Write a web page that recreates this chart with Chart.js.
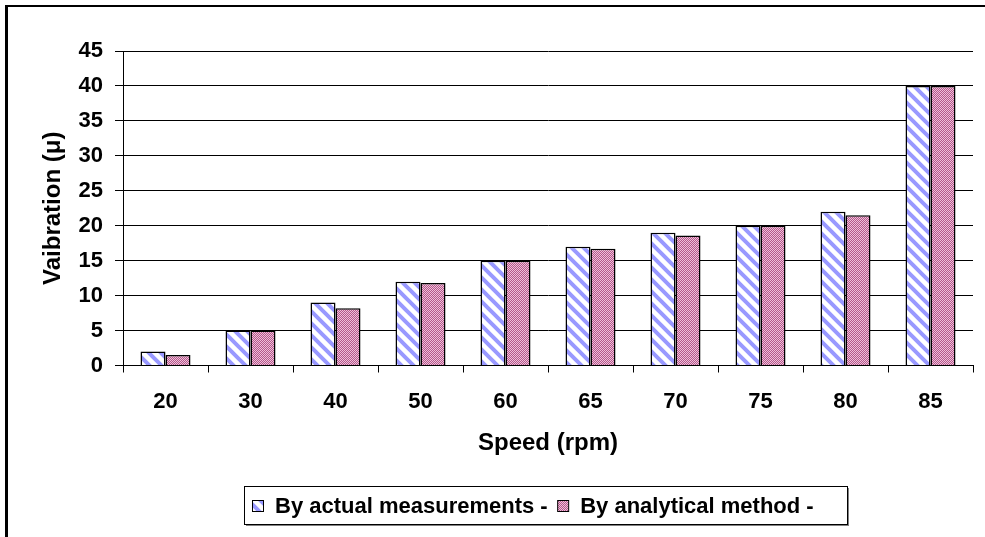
<!DOCTYPE html>
<html>
<head>
<meta charset="utf-8">
<title>Vibration vs speed</title>
<script src="https://cdn.jsdelivr.net/npm/chart.js@4"></script>
<style>
  html, body { margin: 0; padding: 0; background: #fff; }
  #chart { display: block; }
</style>
</head>
<body>
<canvas id="chart" width="985" height="537"></canvas>
<script>
// Speed vs vibration, measured vs analytical
const speeds = ["20", "30", "40", "50", "60", "65", "70", "75", "80", "85"];
const actualVals = [2, 5, 9, 12, 15, 17, 19, 20, 22, 40];
const analyticVals = [1.5, 5, 8.2, 11.8, 15, 16.7, 18.6, 20, 21.5, 40];
const seriesNames = ["By actual measurements -", "By analytical method -"];
const yTicks = [0, 5, 10, 15, 20, 25, 30, 35, 40, 45];

const FONT = "'Liberation Sans', Arial, sans-serif";

function stripePattern() {
  const c = document.createElement("canvas");
  c.width = 12; c.height = 12;
  const g = c.getContext("2d");
  g.fillStyle = "#fff";
  g.fillRect(0, 0, 12, 12);
  g.strokeStyle = "#9999ff";
  g.lineWidth = 4;
  g.beginPath();
  for (let k = -1; k <= 1; k++) {
    g.moveTo(-3, -3 + 12 * k);
    g.lineTo(15, 15 + 12 * k);
  }
  g.stroke();
  return g.createPattern(c, "repeat");
}

function dotPattern() {
  // fine checker, mauve + pale pink
  const c = document.createElement("canvas");
  c.width = 2; c.height = 2;
  const g = c.getContext("2d");
  g.fillStyle = "#b4588a";
  g.fillRect(0, 0, 2, 2);
  g.fillStyle = "#efbfda";
  g.fillRect(0, 0, 1, 1);
  g.fillRect(1, 1, 1, 1);
  return g.createPattern(c, "repeat");
}

const fills = [stripePattern(), dotPattern()];

// frame + white background
const framePlugin = {
  id: "frame",
  beforeDraw(chart) {
    const ctx = chart.ctx;
    ctx.save();
    ctx.fillStyle = "#fff";
    ctx.fillRect(0, 0, chart.width, chart.height);
    ctx.fillStyle = "#000";
    ctx.fillRect(5, 5, 3, chart.height - 5);
    ctx.fillRect(5, 5, chart.width - 5, 2);
    ctx.restore();
  }
};

// boxed legend under the axis title
const legendBoxPlugin = {
  id: "legendBox",
  afterDraw(chart) {
    const ctx = chart.ctx;
    const sets = chart.data.datasets;
    const box = { x: 244.5, y: 486.5, w: 603, h: 38 };
    ctx.save();
    ctx.fillStyle = "#808080";
    ctx.fillRect(box.x + 1.5, box.y + 1.5, box.w, box.h);
    ctx.fillStyle = "#fff";
    ctx.fillRect(box.x, box.y, box.w, box.h);
    ctx.strokeStyle = "#000";
    ctx.lineWidth = 1;
    ctx.strokeRect(box.x, box.y, box.w, box.h);

    ctx.font = "bold 22px " + FONT;
    ctx.textBaseline = "middle";
    ctx.textAlign = "left";
    let x = 252.5;
    const midY = box.y + box.h / 2;
    sets.forEach((ds) => {
      ctx.fillStyle = ds.backgroundColor;
      ctx.fillRect(x, midY - 5, 11, 11);
      ctx.strokeRect(x, midY - 5, 11, 11);
      ctx.fillStyle = "#000";
      ctx.fillText(ds.label, x + 22.5, midY + 1);
      x += 22.5 + ctx.measureText(ds.label).width + 10;
    });
    ctx.restore();
  }
};

new Chart(document.getElementById("chart"), {
  type: "bar",
  data: {
    labels: speeds,
    datasets: [
      {
        label: seriesNames[0],
        data: actualVals,
        backgroundColor: fills[0],
        borderColor: "#000",
        borderWidth: 1.5,
        barPercentage: 1,
        categoryPercentage: 50 / 85
      },
      {
        label: seriesNames[1],
        data: analyticVals,
        backgroundColor: fills[1],
        borderColor: "#000",
        borderWidth: 1.5,
        barPercentage: 1,
        categoryPercentage: 50 / 85
      }
    ]
  },
  options: {
    responsive: false,
    animation: false,
    devicePixelRatio: 1,
    layout: { padding: { top: 51, right: 12, bottom: 0, left: 0 } },
    plugins: {
      legend: { display: false },
      tooltip: { enabled: false }
    },
    scales: {
      x: {
        afterFit(scale) { scale.height = 171.5; },
        grid: {
          display: true,
          drawOnChartArea: false,
          drawTicks: true,
          tickLength: 7,
          color: "#000",
          offset: true
        },
        border: { display: true, color: "#000", width: 1 },
        ticks: {
          color: "#000",
          padding: 16,
          maxRotation: 0,
          font: { family: FONT, size: 22, weight: "bold" }
        },
        title: {
          display: true,
          text: "Speed (rpm)",
          color: "#000",
          padding: { top: 0, bottom: 79 },
          font: { family: FONT, size: 24, weight: "bold" }
        }
      },
      y: {
        min: 0,
        max: 45,
        afterFit(scale) { scale.width = 123; },
        afterBuildTicks(scale) { scale.ticks = yTicks.map(v => ({ value: v })); },
        grid: {
          color: "#000",
          lineWidth: 1,
          drawTicks: true,
          tickLength: 8,
        },
        border: { display: true, color: "#000", width: 1 },
        ticks: {
          color: "#000",
          padding: 12,
          font: { family: FONT, size: 22, weight: "bold" }
        },
        title: {
          display: true,
          text: "Vaibration (\u03bc)",
          color: "#000",
          padding: { top: 39, bottom: 0 },
          font: { family: FONT, size: 24, weight: "bold" }
        }
      }
    }
  },
  plugins: [framePlugin, legendBoxPlugin]
});
</script>
</body>
</html>
